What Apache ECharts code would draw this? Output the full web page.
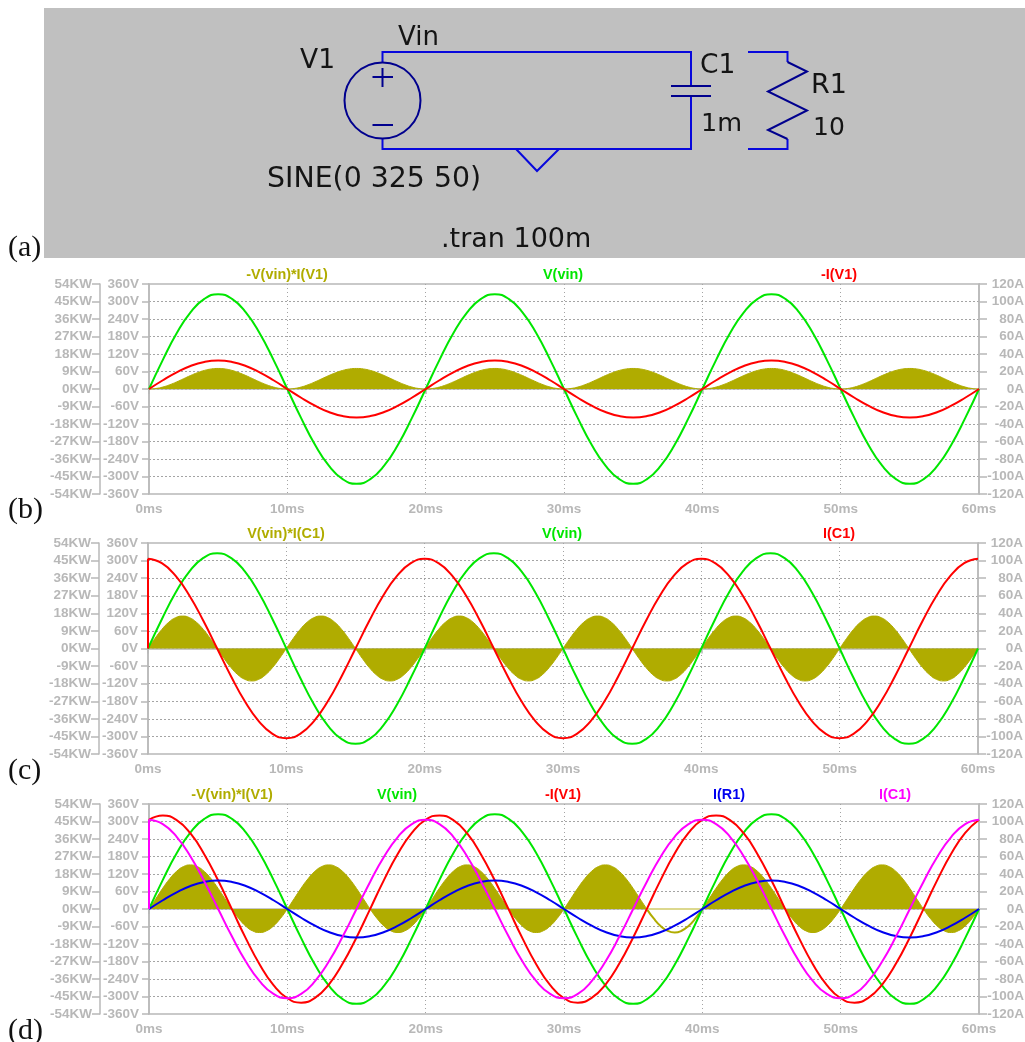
<!DOCTYPE html>
<html>
<head>
<meta charset="utf-8">
<style>html,body{margin:0;padding:0;background:#fff}#c{width:1025px;height:1042px}</style>
<script src="https://cdn.jsdelivr.net/npm/echarts@6/dist/echarts.min.js"></script>
</head>
<body>
<div id="c"></div>
<script>
// time axis for the traces, milliseconds
var timeMs = [0,1,2,3,4,5,6,7,8,9,10,11,12,13,14,15,16,17,18,19,20,21,22,23,24,25,26,27,28,29,30,31,32,33,34,35,36,37,38,39,40,41,42,43,44,45,46,47,48,49,50,51,52,53,54,55,56,57,58,59,60];
// time axis for the power traces, milliseconds
var timeHalfMs = [0,0.5,1,1.5,2,2.5,3,3.5,4,4.5,5,5.5,6,6.5,7,7.5,8,8.5,9,9.5,10,10.5,11,11.5,12,12.5,13,13.5,14,14.5,15,15.5,16,16.5,17,17.5,18,18.5,19,19.5,20,20.5,21,21.5,22,22.5,23,23.5,24,24.5,25,25.5,26,26.5,27,27.5,28,28.5,29,29.5,30,30.5,31,31.5,32,32.5,33,33.5,34,34.5,35,35.5,36,36.5,37,37.5,38,38.5,39,39.5,40,40.5,41,41.5,42,42.5,43,43.5,44,44.5,45,45.5,46,46.5,47,47.5,48,48.5,49,49.5,50,50.5,51,51.5,52,52.5,53,53.5,54,54.5,55,55.5,56,56.5,57,57.5,58,58.5,59,59.5,60];
// V(vin), volts
var vVin = [0,100,191,263,309,325,309,263,191,100,0,-100,-191,-263,-309,-325,-309,-263,-191,-100,0,100,191,263,309,325,309,263,191,100,0,-100,-191,-263,-309,-325,-309,-263,-191,-100,0,100,191,263,309,325,309,263,191,100,0,-100,-191,-263,-309,-325,-309,-263,-191,-100,0];
// I(R1) = -I(V1) of panel b, amps
var iR1 = [0,10,19,26.3,30.9,32.5,30.9,26.3,19,10,0,-10,-19,-26.3,-30.9,-32.5,-30.9,-26.3,-19,-10,0,10,19,26.3,30.9,32.5,30.9,26.3,19,10,0,-10,-19,-26.3,-30.9,-32.5,-30.9,-26.3,-19,-10,0,10,19,26.3,30.9,32.5,30.9,26.3,19,10,0,-10,-19,-26.3,-30.9,-32.5,-30.9,-26.3,-19,-10,0];
// I(C1), amps
var iC1 = [102,97,82.5,60,31.5,0,-31.5,-60,-82.5,-97,-102,-97,-82.5,-60,-31.5,0,31.5,60,82.5,97,102,97,82.5,60,31.5,0,-31.5,-60,-82.5,-97,-102,-97,-82.5,-60,-31.5,0,31.5,60,82.5,97,102,97,82.5,60,31.5,0,-31.5,-60,-82.5,-97,-102,-97,-82.5,-60,-31.5,0,31.5,60,82.5,97,102];
// -I(V1) of panel d, amps
var iV1 = [102,107,101.6,86.3,62.4,32.5,-0.5,-33.6,-63.3,-86.9,-102,-107,-101.6,-86.3,-62.4,-32.5,0.5,33.6,63.3,86.9,102,107,101.6,86.3,62.4,32.5,-0.5,-33.6,-63.3,-86.9,-102,-107,-101.6,-86.3,-62.4,-32.5,0.5,33.6,63.3,86.9,102,107,101.6,86.3,62.4,32.5,-0.5,-33.6,-63.3,-86.9,-102,-107,-101.6,-86.3,-62.4,-32.5,0.5,33.6,63.3,86.9,102];
// -V(vin)*I(V1) of panel b, kW
var pB = [0,0.26,1.01,2.18,3.65,5.28,6.92,8.38,9.55,10.3,10.56,10.3,9.55,8.38,6.92,5.28,3.65,2.18,1.01,0.26,
0,0.26,1.01,2.18,3.65,5.28,6.92,8.38,9.55,10.3,10.56,10.3,9.55,8.38,6.92,5.28,3.65,2.18,1.01,0.26,
0,0.26,1.01,2.18,3.65,5.28,6.92,8.38,9.55,10.3,10.56,10.3,9.55,8.38,6.92,5.28,3.65,2.18,1.01,0.26,
0,0.26,1.01,2.18,3.65,5.28,6.92,8.38,9.55,10.3,10.56,10.3,9.55,8.38,6.92,5.28,3.65,2.18,1.01,0.26,
0,0.26,1.01,2.18,3.65,5.28,6.92,8.38,9.55,10.3,10.56,10.3,9.55,8.38,6.92,5.28,3.65,2.18,1.01,0.26,
0,0.26,1.01,2.18,3.65,5.28,6.92,8.38,9.55,10.3,10.56,10.3,9.55,8.38,6.92,5.28,3.65,2.18,1.01,0.26,0];
// V(vin)*I(C1) of panel c, kW
var pC = [0,5.13,9.76,13.43,15.79,16.6,15.79,13.43,9.76,5.13,0,-5.13,-9.76,-13.43,-15.79,-16.6,-15.79,-13.43,-9.76,-5.13,
0,5.13,9.76,13.43,15.79,16.6,15.79,13.43,9.76,5.13,0,-5.13,-9.76,-13.43,-15.79,-16.6,-15.79,-13.43,-9.76,-5.13,
0,5.13,9.76,13.43,15.79,16.6,15.79,13.43,9.76,5.13,0,-5.13,-9.76,-13.43,-15.79,-16.6,-15.79,-13.43,-9.76,-5.13,
0,5.13,9.76,13.43,15.79,16.6,15.79,13.43,9.76,5.13,0,-5.13,-9.76,-13.43,-15.79,-16.6,-15.79,-13.43,-9.76,-5.13,
0,5.13,9.76,13.43,15.79,16.6,15.79,13.43,9.76,5.13,0,-5.13,-9.76,-13.43,-15.79,-16.6,-15.79,-13.43,-9.76,-5.13,
0,5.13,9.76,13.43,15.79,16.6,15.79,13.43,9.76,5.13,0,-5.13,-9.76,-13.43,-15.79,-16.6,-15.79,-13.43,-9.76,-5.13,0];
// -V(vin)*I(V1) of panel d, kW
var pD = [0,5.37,10.75,15.58,19.4,21.86,22.67,21.79,19.3,15.44,10.57,5.2,-0.17,-5,-8.83,-11.28,-12.1,-11.2,-8.73,-4.87,
0,5.37,10.75,15.58,19.4,21.86,22.67,21.79,19.3,15.44,10.57,5.2,-0.17,-5,-8.83,-11.28,-12.1,-11.2,-8.73,-4.87,
0,5.37,10.75,15.58,19.4,21.86,22.67,21.79,19.3,15.44,10.57,5.2,-0.17,-5,-8.83,-11.28,-12.1,-11.2,-8.73,-4.87,
0,5.37,10.75,15.58,19.4,21.86,22.67,21.79,19.3,15.44,10.57,5.2,-0.17,-5,-8.83,-11.28,-12.1,-11.2,-8.73,-4.87,
0,5.37,10.75,15.58,19.4,21.86,22.67,21.79,19.3,15.44,10.57,5.2,-0.17,-5,-8.83,-11.28,-12.1,-11.2,-8.73,-4.87,
0,5.37,10.75,15.58,19.4,21.86,22.67,21.79,19.3,15.44,10.57,5.2,-0.17,-5,-8.83,-11.28,-12.1,-11.2,-8.73,-4.87,0];

var OLIVE='#b0ac00', GREEN='#00e600', RED='#ff0000', BLUE='#0000f0', MAG='#ff00ff', GREY='#b8b8b8', DASH='#a4a4a4';
var WIRE='#0808dc', PART='#00008e', INK='#141414';
var TICKFONT='"Liberation Sans", Arial, sans-serif';

function pts(arr, from, to){
  var out=[]; from=from||0; to=(to===undefined?arr.length-1:to);
  for(var i=from;i<=to;i++) out.push([timeMs[i],arr[i]]);
  return out;
}
function ptsHalf(arr, from, to){
  var out=[]; from=from||0; to=(to===undefined?arr.length-1:to);
  for(var i=from;i<=to;i++) out.push([timeHalfMs[i],arr[i]]);
  return out;
}
function jump(arr){ return [[timeMs[0],0],[timeMs[0],arr[0]]]; }

var grids=[], xAxes=[], yAxes=[], series=[], titles=[];
function addPanel(g, labels){
  var idx=grids.length, y0=yAxes.length;
  grids.push({left:g.left, top:g.top, width:g.width, height:g.height, show:true, borderColor:GREY, borderWidth:1.5, backgroundColor:'transparent', containLabel:false, outerBoundsMode:'none'});
  xAxes.push({type:'value', gridIndex:idx, min:0, max:60, interval:10,
    axisLine:{show:true,lineStyle:{color:GREY,width:1.5}},
    axisTick:{show:true,length:5,lineStyle:{color:GREY,width:1.5}},
    axisLabel:{formatter:'{value}ms',color:GREY,fontFamily:TICKFONT,fontWeight:'bold',fontSize:13.5,margin:8,hideOverlap:false,showMinLabel:true,showMaxLabel:true},
    splitLine:{show:true,showMinLine:false,showMaxLine:false,lineStyle:{color:DASH,type:[1,3],width:1}}});
  var common=function(unit,min,max,iv,pos,offset,tick,margin,split,align){return {type:'value',gridIndex:idx,position:pos,offset:offset,min:min,max:max,interval:iv,
    axisLine:{show:true,onZero:false,lineStyle:{color:GREY,width:1.5}},
    axisTick:{show:true,length:tick,lineStyle:{color:GREY,width:1.5}},
    axisLabel:{formatter:'{value}'+unit,color:GREY,fontFamily:TICKFONT,fontWeight:'bold',fontSize:13.5,margin:margin,align:align,showMinLabel:true,showMaxLabel:true,hideOverlap:false},
    splitLine:{show:split,showMinLine:false,showMaxLine:false,lineStyle:{color:DASH,type:[2,2],width:1}}};};
  yAxes.push(common('V',-360,360,60,'left',0,7,10,true,'right'));
  yAxes.push(common('KW',-54,54,9,'left',49,8,8,false,'right'));
  yAxes.push(common('A',-120,120,20,'right',0,8,45,false,'right'));
  labels.forEach(function(l){
    titles.push({text:l[0],left:l[1],top:g.top-16,textAlign:'center',textStyle:{color:l[2],fontFamily:TICKFONT,fontSize:14.4,fontWeight:'bold'},padding:0});
  });
  return {x:idx,v:y0,p:y0+1,a:y0+2};
}
function line(name,ax,axisKey,data,color,opts){
  var s={name:name,type:'line',xAxisIndex:ax.x,yAxisIndex:ax[axisKey],data:data,showSymbol:false,symbol:'none',smooth:0.5,clip:false,animation:false,
    lineStyle:{color:color,width:2},itemStyle:{color:color},silent:true};
  if(opts) for(var k in opts) s[k]=opts[k];
  series.push(s);
}
var FILLED={areaStyle:{color:OLIVE,opacity:1},lineStyle:{color:OLIVE,width:1}};

// panel b
var b=addPanel({left:149,top:284,width:830,height:210},[['-V(vin)*I(V1)',287,OLIVE],['V(vin)',563,GREEN],['-I(V1)',839,RED]]);
line('-V(vin)*I(V1)',b,'p',ptsHalf(pB),OLIVE,FILLED);
line('V(vin)',b,'v',pts(vVin),GREEN);
line('-I(V1)',b,'a',pts(iR1),RED);

// panel c
var c=addPanel({left:148,top:543,width:830,height:211},[['V(vin)*I(C1)',286,OLIVE],['V(vin)',562,GREEN],['I(C1)',839,RED]]);
line('V(vin)*I(C1)',c,'p',ptsHalf(pC),OLIVE,FILLED);
line('V(vin)',c,'v',pts(vVin),GREEN);
line('I(C1) step',c,'a',jump(iC1),RED,{smooth:false});
line('I(C1)',c,'a',pts(iC1),RED);

// panel d
var d=addPanel({left:149,top:804,width:830,height:210},[['-V(vin)*I(V1)',232,OLIVE],['V(vin)',397,GREEN],['-I(V1)',563,RED],['I(R1)',729,BLUE],['I(C1)',895,MAG]]);
line('-V(vin)*I(V1) first',d,'p',ptsHalf(pD,0,72),OLIVE,FILLED);
line('-V(vin)*I(V1) gap',d,'p',ptsHalf(pD,72,80),OLIVE,{lineStyle:{color:OLIVE,width:2}});
line('-V(vin)*I(V1) gap floor',d,'p',[[timeHalfMs[72],0],[timeHalfMs[80],0]],'#dcd88e',{smooth:false,lineStyle:{color:'#dcd88e',width:2}});
line('-V(vin)*I(V1) last',d,'p',ptsHalf(pD,80,120),OLIVE,FILLED);
line('V(vin)',d,'v',pts(vVin),GREEN);
line('-I(V1) step',d,'a',jump(iV1),RED,{smooth:false});
line('-I(V1)',d,'a',pts(iV1),RED);
line('I(R1)',d,'a',pts(iR1),BLUE);
line('I(C1) step',d,'a',jump(iC1),MAG,{smooth:false});
line('I(C1)',d,'a',pts(iC1),MAG);

// schematic (panel a) and panel letters
function seg(points,color,w){return {type:'polyline',shape:{points:points},style:{stroke:color,lineWidth:w||2,fill:null},silent:true};}
function txt(t,x,y,size,opts){var s={text:t,x:x,y:y,fontFamily:'"DejaVu Sans"',fontSize:size,fill:INK,textAlign:'left',textVerticalAlign:'middle'};if(opts)for(var k in opts)s[k]=opts[k];return {type:'text',style:s,silent:true};}
function letter(t,y){return txt(t,8,y,30,{fontFamily:'"Liberation Serif"',fill:'#111'});}

var graphic=[
 {type:'rect',shape:{x:44,y:8,width:981,height:250},style:{fill:'#c0c0c0'},silent:true,z:-1},
 seg([[382.5,62],[382.5,52],[691,52],[691,86]],WIRE),
 seg([[382.5,139],[382.5,149],[691,149],[691,96]],WIRE),
 seg([[516,149],[537,171],[559,149]],WIRE),
 seg([[748,52],[787.5,52],[787.5,62]],WIRE),
 seg([[787.5,139],[787.5,149],[748,149]],WIRE),
 {type:'circle',shape:{cx:382.5,cy:100.5,r:38},style:{stroke:PART,lineWidth:2,fill:null},silent:true},
 seg([[372.5,77],[393,77]],PART),
 seg([[382.5,68],[382.5,87]],PART),
 seg([[372.5,125],[393,125]],PART),
 seg([[671,86],[711,86]],PART),
 seg([[671,96],[711,96]],PART),
 seg([[787.5,62],[807,71.5],[768,91.5],[807,110.5],[768,130],[787.5,139]],PART),
 txt('Vin',398,38,26),
 txt('V1',300,61,26.5),
 txt('C1',700,66,26.5),
 txt('R1',811,86,27),
 txt('1m',701,124,25.5),
 txt('10',813,128,25),
 txt('SINE(0 325 50)',267,180,28.4),
 txt('.tran 100m',441,240,27),
 letter('(a)',248),
 letter('(b)',510),
 letter('(c)',771),
 letter('(d)',1031)
];

var chart=echarts.init(document.getElementById('c'),null,{renderer:'canvas'});
chart.setOption({animation:false,backgroundColor:'#ffffff',title:titles,grid:grids,xAxis:xAxes,yAxis:yAxes,series:series,graphic:graphic});
</script>
</body>
</html>
